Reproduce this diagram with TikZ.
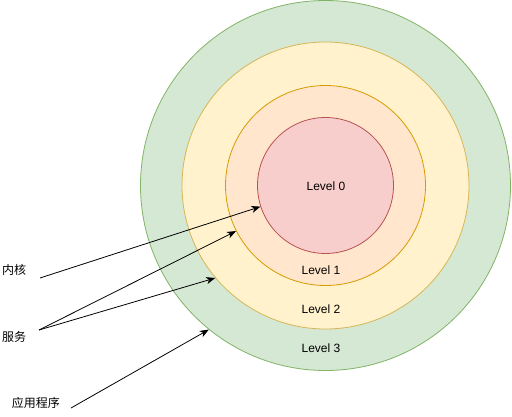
\documentclass[tikz,border=0pt]{standalone}
\usepackage{fontspec}
\setmainfont{Liberation Sans}
\newfontfamily\cjk{Noto Sans CJK SC}
\usetikzlibrary{arrows.meta}
\definecolor{gfill}{HTML}{D5E8D4}\definecolor{gline}{HTML}{82B366}
\definecolor{yfill}{HTML}{FFF2CC}\definecolor{yline}{HTML}{D6B656}
\definecolor{ofill}{HTML}{FFE6CC}\definecolor{oline}{HTML}{D79B00}
\definecolor{rfill}{HTML}{F8CECC}\definecolor{rline}{HTML}{B85450}
\begin{document}
\begin{tikzpicture}[x=1pt,y=-1pt,
  ring/.style={circle,draw,line width=0.8pt,inner sep=0pt},
  lbl/.style={font=\fontsize{12}{14}\selectfont,inner sep=0pt},
  clbl/.style={font=\cjk\fontsize{12}{14}\selectfont,inner sep=0pt},
  arr/.style={line width=0.8pt,-{Stealth[length=9pt,width=7pt,inset=2.5pt]}}]
\useasboundingbox (0,0) rectangle (512,417);
\node[ring,fill=gfill,draw=gline,minimum size=370pt] (l3) at (325.5,185.5) {};
\node[ring,fill=yfill,draw=yline,minimum size=287pt] (l2) at (325.5,185.5) {};
\node[ring,fill=ofill,draw=oline,minimum size=200pt] (l1) at (325.5,185.5) {};
\node[ring,fill=rfill,draw=rline,minimum size=136pt] (l0) at (325.5,185.5) {};
\node[lbl] (t0) at (326,186) {Level 0};
\node[lbl] (t1) at (321,270) {Level 1};
\node[lbl] (t2) at (321,309) {Level 2};
\node[lbl] (t3) at (321,348) {Level 3};
\node[clbl] (nk) at (14,270) {内核};
\node[clbl] (fw) at (14,337) {服务};
\node[clbl] (yy) at (36,403) {应用程序};
\coordinate (nks) at (40,278);
\coordinate (fws) at (39,330);
\coordinate (yys) at (71,408);
\draw[arr] (nks) -- (l0.198);
\draw[arr] (fws) -- (l1.207);
\draw[arr] (fws) -- (l2.220.5);
\draw[arr] (yys) -- (l3.231.5);
\end{tikzpicture}
\end{document}
